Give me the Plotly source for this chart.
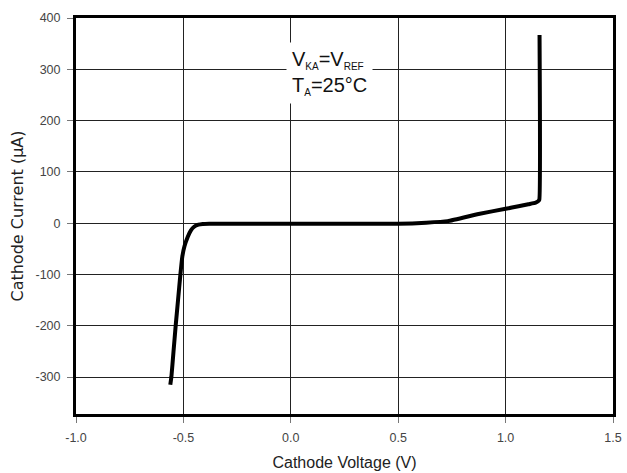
import plotly.graph_objects as go

# Cathode voltage (V) and cathode current (uA)
voltage = [-0.561, -0.556, -0.546, -0.536, -0.525, -0.514, -0.505, -0.495,
           -0.48, -0.465, -0.45, -0.43, -0.41, -0.38, 0.0, 0.5, 0.63, 0.73,
           0.874, 1.0, 1.06, 1.106, 1.14, 1.152, 1.157, 1.158]
current = [-315, -300, -250, -200, -150, -100, -65, -45,
           -27, -14, -7, -3, -1.5, -1, -1, -1, 1, 4,
           18, 28, 33, 37, 40, 43, 46, 367]

x_ticks = [-1.0, -0.5, 0.0, 0.5, 1.0, 1.5]
x_ticktext = ["-1.0", "-0.5", "0.0", "0.5", "1.0", "1.5"]
y_ticks = [-300, -200, -100, 0, 100, 200, 300, 400]
y_ticktext = ["-300", "-200", "-100", "0", "100", "200", "300", "400"]

FONT = "Liberation Sans, Arial, sans-serif"

fig = go.Figure()
fig.add_trace(go.Scatter(
    x=voltage, y=current, mode="lines",
    line=dict(color="black", width=4, shape="spline", smoothing=0.4),
    showlegend=False, hoverinfo="skip"))

sub = '<sub><span style="font-size:10px">{}</span></sub>'
fig.add_annotation(
    x=0.0, y=292, xref="x", yref="y", xanchor="left", yanchor="middle",
    xshift=-5,
    text="V" + sub.format("KA") + "=V" + sub.format("REF") + "<br>T"
         + sub.format("A") + "=25°C",
    showarrow=False, align="left", bgcolor="white", borderpad=5,
    font=dict(family=FONT, size=20, color="#111"))

axis_common = dict(
    showline=True, linecolor="black", linewidth=3, mirror=True,
    showgrid=True, gridcolor="#222222", gridwidth=1.3,
    zeroline=False, ticks="outside", ticklen=6, tickcolor="#777",
    ticklabelstandoff=4, automargin=False,
    tickfont=dict(family=FONT, size=12.5, color="#444"),
)

fig.update_xaxes(range=[-1.0, 1.5], tickvals=x_ticks, ticktext=x_ticktext,
                 title=dict(text="Cathode Voltage (V)", standoff=13,
                            font=dict(family=FONT, size=16, color="#222")),
                 **axis_common)
fig.update_yaxes(range=[-372, 400], tickvals=y_ticks, ticktext=y_ticktext,
                 title=dict(text="Cathode Current (μA)", standoff=8,
                            font=dict(family="DejaVu Sans, sans-serif", size=16, color="#222")),
                 **axis_common)

fig.update_layout(
    width=627, height=473,
    margin=dict(l=76, r=14, t=18, b=59),
    paper_bgcolor="white", plot_bgcolor="white",
)

fig.write_html("out.html")
